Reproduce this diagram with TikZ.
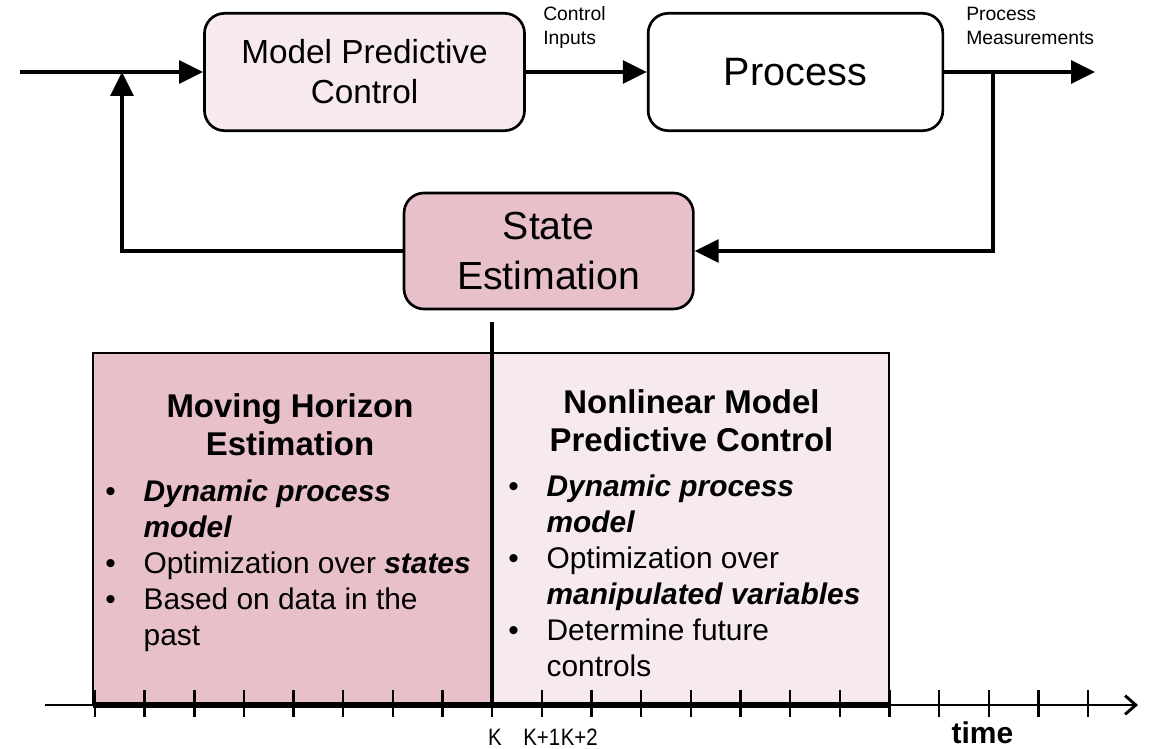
\documentclass[tikz,border=0pt]{standalone}
\usepackage{fontspec}
\setmainfont{Liberation Sans}
\newfontfamily\tickfont[FakeStretch=0.86]{Liberation Sans}
\usetikzlibrary{arrows.meta,positioning}

\definecolor{lightpink}{RGB}{246,234,238}
\definecolor{darkpink}{RGB}{231,192,202}

\newcommand{\bulletmark}{\makebox[28.8pt][l]{•}}
\newcommand{\contmark}{\hspace*{28.8pt}}
\newcommand{\bfit}[1]{\textbf{\textit{#1}}}

\tikzset{
  block/.style={draw, line width=2pt, rounded corners=15pt, align=center, inner sep=0pt},
  flow/.style={line width=3pt, -{Triangle[length=18pt,width=17pt]}},
  tag/.style={font=\fontsize{14.5}{18}\selectfont, align=left, anchor=north west, inner sep=0pt},
  heading/.style={font=\fontsize{24.7}{29}\selectfont\bfseries, align=center, anchor=north, inner sep=0pt},
  itemlist/.style={font=\fontsize{22.4}{27}\selectfont, align=left, anchor=north west, inner sep=0pt},
  ticklabel/.style={font=\tickfont\fontsize{17.8}{17.8}\selectfont, anchor=base, inner sep=0pt},
  tickmark/.style={line width=1.8pt}
}

\begin{document}
\begin{tikzpicture}[x=0.75pt, y=-0.75pt]
  \useasboundingbox (0,0) rectangle (1153,749);

  \node[block, fill=lightpink, minimum width=240pt, minimum height=88pt,
        font=\fontsize{25}{30}\selectfont] (mpc) at (364.5,72) {Model Predictive\\Control};
  \node[block, fill=white, minimum width=221pt, minimum height=88pt,
        font=\fontsize{29.7}{30}\selectfont] (proc) at (795.5,72) {Process};
  \node[block, fill=darkpink, minimum width=217pt, minimum height=87pt,
        font=\fontsize{29.4}{37.5}\selectfont] (est) at (548.7,251) {State\\Estimation};

  \coordinate (in) at (20,72);
  \coordinate (join) at (122,72);
  \coordinate (out) at (1095,72);
  \coordinate (tap) at (993,72);

  \draw[flow] (in) -- (mpc);
  \draw[flow] (mpc) -- (proc);
  \draw[flow] (proc) -- (out);
  \draw[flow] (tap) |- (est);
  \draw[flow] (est) -| (join);

  \node[tag] (ctrl) at (543,6.5) {Control\\Inputs};
  \node[tag] (meas) at (966,6.5) {Process\\Measurements};

  \fill[darkpink] (93,353) rectangle (492,705);
  \fill[lightpink] (492,353) rectangle (889,705);
  \draw[line width=1.5pt] (93,705) -- (93,353) -- (492,353);
  \draw[line width=1.5pt] (492,353) -- (889,353) -- (889,705);

  \coordinate (now) at (492,322);
  \coordinate (nowaxis) at (492,705);
  \draw[line width=3.5pt] (now) -- (nowaxis);

  \node[heading] (mhe) at (290,393) {Moving Horizon\\Estimation};
  \node[itemlist] (mhelist) at (105,480)
    {\bulletmark\bfit{Dynamic process}\\
     \contmark\bfit{model}\\
     \bulletmark Optimization over \bfit{states}\\
     \bulletmark Based on data in the\\
     \contmark past};

  \node[heading] (nmpc) at (691.5,389) {Nonlinear Model\\Predictive Control};
  \node[itemlist] (nmpclist) at (508,475)
    {\bulletmark\bfit{Dynamic process}\\
     \contmark\bfit{model}\\
     \bulletmark Optimization over\\
     \contmark\bfit{manipulated variables}\\
     \bulletmark Determine future\\
     \contmark controls};

  \coordinate (tstart) at (45,705);
  \coordinate (tend) at (1138,705);
  \draw[line width=2.2pt, -{Straight Barb[length=8pt,width=14pt]}] (tstart) -- (tend);
  \draw[line width=4pt] (93,705) -- (889,705);

  \foreach \i in {0,...,20}
    \draw[tickmark] ({95+49.65*\i},690) -- ++(0,27);

  \node[ticklabel] (k) at (495,745.5) {K};
  \node[ticklabel] (k1) at (541.8,745.5) {K+1};
  \node[ticklabel, anchor=west, right=0pt of k1] (k2) {K+2};
  \node[font=\fontsize{22.5}{22.5}\selectfont\bfseries, anchor=base, inner sep=0pt] (time) at (982.5,743.3) {time};
\end{tikzpicture}
\end{document}
